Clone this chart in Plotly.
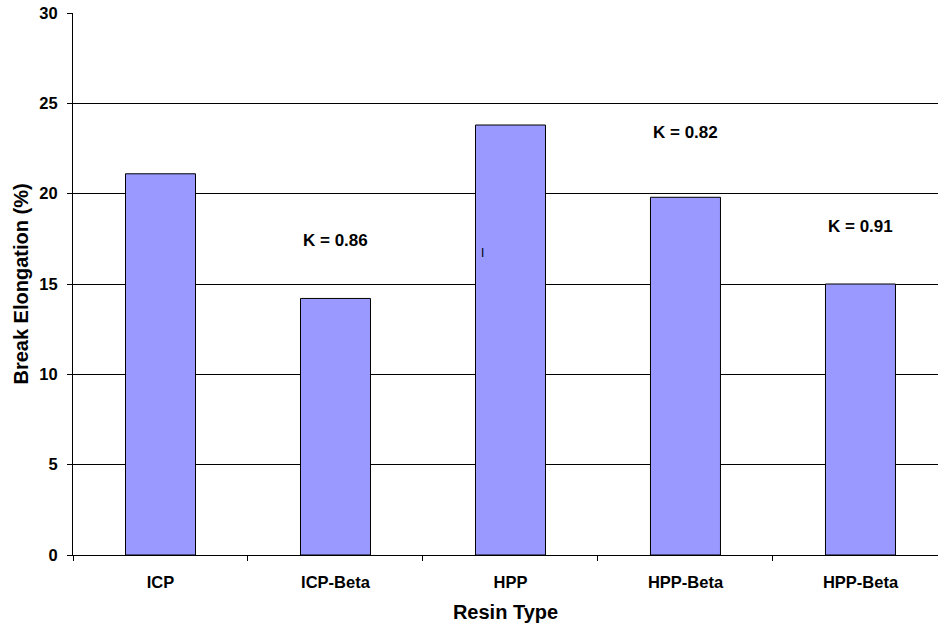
import plotly.graph_objects as go

# Break elongation by resin type
resins = ["ICP", "ICP-Beta", "HPP", "HPP-Beta", "HPP-Beta"]
elongation = [21.1, 14.2, 23.8, 19.8, 15.0]
positions = list(range(len(resins)))

# Ratio labels placed above selected bars
k_labels = ["K = 0.86", "K = 0.82", "K = 0.91"]
k_x = [1, 3, 4]
k_y = [17.4, 23.4, 18.2]

y_ticks = [0, 5, 10, 15, 20, 25, 30]

font_family = "Liberation Sans, Arial, sans-serif"

fig = go.Figure()
fig.add_trace(go.Bar(
    x=positions,
    y=elongation,
    width=0.4,
    marker=dict(color="#9999FF", line=dict(color="#000000", width=1)),
    showlegend=False,
    hoverinfo="skip",
))

for txt, xx, yy in zip(k_labels, k_x, k_y):
    fig.add_annotation(x=xx, y=yy, text=f"<b>{txt}</b>", showarrow=False,
                       font=dict(family=font_family, size=17, color="#000000"))

# small cursor mark inside the HPP bar
fig.add_annotation(x=1.84, y=16.7, text="I", showarrow=False,
                   font=dict(family=font_family, size=12, color="#000000"))

fig.update_layout(
    width=938, height=626,
    margin=dict(l=73, r=0, t=13, b=71),
    paper_bgcolor="white", plot_bgcolor="white",
    font=dict(family=font_family, color="#000000"),
    bargap=0.6,
    xaxis=dict(
        range=[-0.5, 4.443],
        tickvals=positions,
        ticktext=[f"<b>{r}</b>" for r in resins],
        tickfont=dict(size=16.5),
        ticks="",
        ticklabelstandoff=12,
        showgrid=False,
        zeroline=False,
        showline=True, linecolor="#000000", linewidth=1,
        minor=dict(tick0=-0.5, dtick=1, ticks="outside", ticklen=5,
                   tickcolor="#000000", showgrid=False),
        title=dict(text="<b>Resin Type</b>", font=dict(size=20), standoff=15),
    ),
    yaxis=dict(
        range=[0, 30],
        tickvals=y_ticks,
        ticktext=[f"<b>{v}</b>" for v in y_ticks],
        tickfont=dict(size=16.5),
        ticks="outside", ticklen=5, tickcolor="#000000",
        ticklabelstandoff=6,
        showgrid=True, gridcolor="#000000", gridwidth=1,
        zeroline=False,
        showline=True, linecolor="#000000", linewidth=1,
        title=dict(text="<b>Break Elongation (%)</b>", font=dict(size=20), standoff=5),
    ),
)

fig.write_html("out.html")
